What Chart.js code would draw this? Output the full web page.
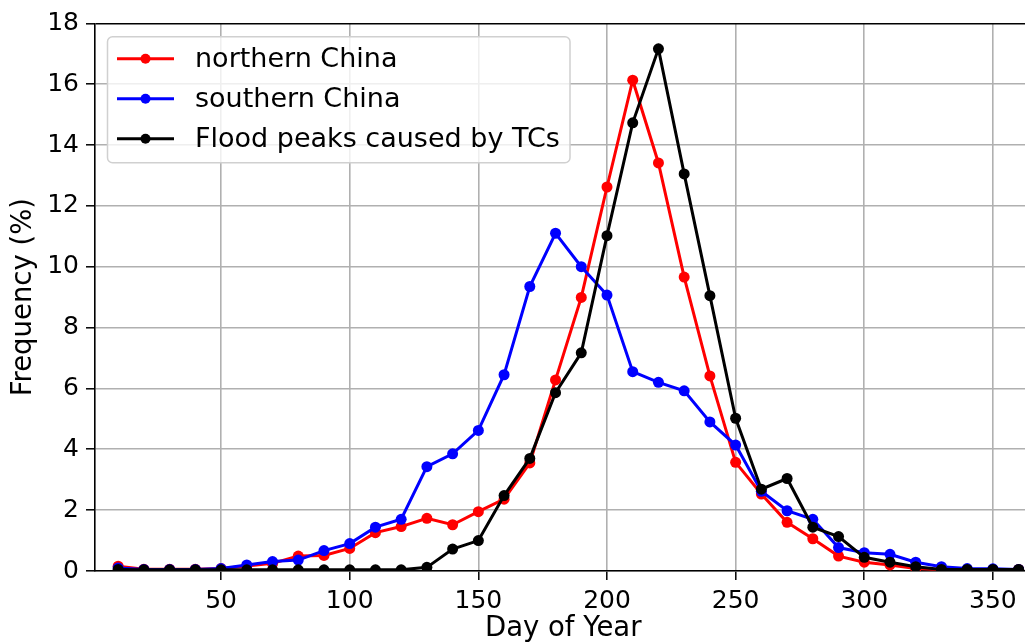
<!DOCTYPE html>
<html>
<head>
<meta charset="utf-8">
<script src="https://cdn.jsdelivr.net/npm/chart.js@4.4.1/dist/chart.umd.min.js"></script>
<style>
  html, body { margin: 0; padding: 0; background: #fff; }
  #wrap { width: 1025px; height: 644px; overflow: hidden; }
</style>
</head>
<body>
<div id="wrap"><canvas id="chart" width="1045" height="644"></canvas></div>
<script>
// Day of year (10-day bins)
const days = [10, 20, 30, 40, 50, 60, 70, 80, 90, 100, 110, 120, 130, 140, 150, 160, 170, 180,
  190, 200, 210, 220, 230, 240, 250, 260, 270, 280, 290, 300, 310, 320, 330, 340, 350, 360];

const northern = [0.16, 0.06, 0.06, 0.06, 0.08, 0.16, 0.25, 0.49, 0.51, 0.74, 1.26, 1.46, 1.73, 1.52,
  1.95, 2.36, 3.55, 6.28, 8.99, 12.62, 16.13, 13.41, 9.66, 6.41, 3.57, 2.53, 1.6, 1.06, 0.49, 0.29,
  0.2, 0.08, 0.05, 0.05, 0.05, 0.05];

const southern = [0.1, 0.05, 0.05, 0.05, 0.08, 0.2, 0.31, 0.36, 0.67, 0.9, 1.44, 1.7, 3.43, 3.85,
  4.62, 6.45, 9.35, 11.1, 10.0, 9.07, 6.55, 6.2, 5.92, 4.9, 4.14, 2.62, 1.98, 1.7, 0.77, 0.6,
  0.55, 0.29, 0.14, 0.08, 0.07, 0.05];

const tcPeaks = [0.05, 0.04, 0.04, 0.04, 0.04, 0.04, 0.04, 0.04, 0.04, 0.04, 0.04, 0.04, 0.12, 0.72,
  1.0, 2.48, 3.7, 5.86, 7.17, 11.02, 14.73, 17.16, 13.05, 9.05, 5.02, 2.69, 3.04, 1.44, 1.13, 0.45,
  0.29, 0.14, 0.05, 0.05, 0.05, 0.05];

const xTicks = [50, 100, 150, 200, 250, 300, 350];
const yTicks = [0, 2, 4, 6, 8, 10, 12, 14, 16, 18];

const FONT = "DejaVu Sans";

function toPoints(vals) {
  return days.map((d, i) => ({ x: d, y: vals[i] }));
}

function series(label, vals, color, order) {
  return {
    label: label,
    data: toPoints(vals),
    borderColor: color,
    backgroundColor: color,
    borderWidth: 3,
    pointRadius: 5.5,
    pointBorderWidth: 0,
    pointHoverRadius: 5.5,
    tension: 0,
    order: order,
  };
}

// matplotlib-like legend inside the axes
const mplLegend = {
  id: "mplLegend",
  afterDraw(chart) {
    const ctx = chart.ctx;
    const a = chart.chartArea;
    const x0 = a.left + 12.5, y0 = a.top + 13.5, w = 462.5, h = 126;
    ctx.save();
    ctx.beginPath();
    ctx.roundRect(x0, y0, w, h, 5);
    ctx.fillStyle = "rgba(255,255,255,0.8)";
    ctx.fill();
    ctx.strokeStyle = "#d0d0d0";
    ctx.lineWidth = 1.5;
    ctx.stroke();
    const sets = [chart.data.datasets[0], chart.data.datasets[1], chart.data.datasets[2]];
    sets.forEach((ds, i) => {
      const y = y0 + 22 + i * 40;
      ctx.strokeStyle = ds.borderColor;
      ctx.lineWidth = 3;
      ctx.beginPath();
      ctx.moveTo(x0 + 9.5, y);
      ctx.lineTo(x0 + 66.5, y);
      ctx.stroke();
      ctx.fillStyle = ds.borderColor;
      ctx.beginPath();
      ctx.arc(x0 + 38, y, 5, 0, Math.PI * 2);
      ctx.fill();
      ctx.fillStyle = "#000";
      ctx.font = "27px '" + FONT + "'";
      ctx.textAlign = "left";
      ctx.textBaseline = "middle";
      ctx.fillText(ds.label, x0 + 87.5, y + 1);
    });
    ctx.restore();
  },
};

new Chart(document.getElementById("chart"), {
  type: "line",
  data: {
    datasets: [
      series("northern China", northern, "#ff0000", 3),
      series("southern China", southern, "#0000ff", 2),
      series("Flood peaks caused by TCs", tcPeaks, "#000000", 1),
    ],
  },
  options: {
    responsive: false,
    animation: false,
    events: [],
    layout: { padding: { left: 0, right: 13.5, top: 23.3, bottom: 0 } },
    plugins: { legend: { display: false }, tooltip: { enabled: false } },
    scales: {
      x: {
        type: "linear",
        min: 1,
        max: 365,
        afterBuildTicks: (s) => { s.ticks = xTicks.map((v) => ({ value: v })); },
        afterFit: (s) => { s.height = 73; },
        ticks: { color: "#000", font: { family: FONT, size: 25 }, padding: 6, maxRotation: 0 },
        grid: { color: "#b0b0b0", lineWidth: 1.6, tickColor: "#000", tickLength: 9, tickWidth: 1.5 },
        border: { color: "#000", width: 1.6 },
        title: { display: true, text: "Day of Year", color: "#000", font: { family: FONT, size: 27.5, lineHeight: 1.1 }, padding: { top: 0, bottom: 0 } },
      },
      y: {
        type: "linear",
        min: 0,
        max: 18,
        afterBuildTicks: (s) => { s.ticks = yTicks.map((v) => ({ value: v })); },
        afterFit: (s) => { s.width = 95; },
        ticks: { color: "#000", font: { family: FONT, size: 25 }, padding: 7 },
        grid: {
          color: (c) => (c.tick && c.tick.value === 18 ? "#000" : "#b0b0b0"),
          lineWidth: 1.6,
          tickColor: "#000",
          tickLength: 9,
          tickWidth: 1.5,
        },
        border: { color: "#000", width: 1.6 },
        title: { display: true, text: "Frequency (%)", color: "#000", font: { family: FONT, size: 27.5, lineHeight: 1.1 }, padding: { top: 9, bottom: 0 } },
      },
    },
  },
  plugins: [mplLegend],
});
</script>
</body>
</html>
